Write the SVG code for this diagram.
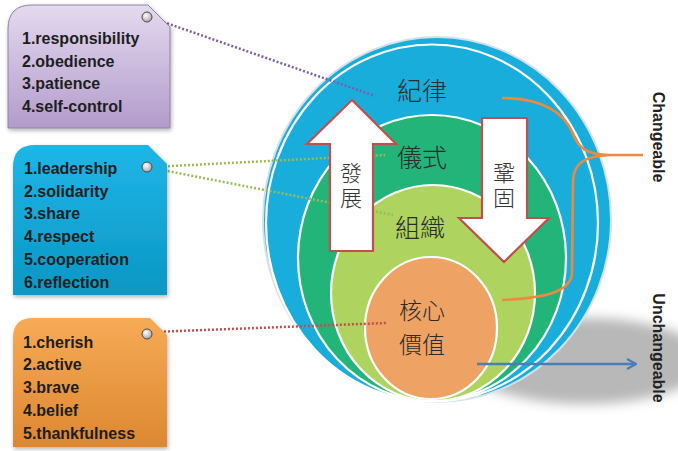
<svg xmlns="http://www.w3.org/2000/svg" width="678" height="451" viewBox="0 0 678 451">
<defs>
<linearGradient id="gPurple" x1="0" y1="0" x2="0" y2="1"><stop offset="0" stop-color="#E4DAEF"/><stop offset="1" stop-color="#B39BCB"/></linearGradient>
<linearGradient id="gBlue" x1="0" y1="0" x2="0" y2="1"><stop offset="0" stop-color="#1FB6E8"/><stop offset="1" stop-color="#0A97C4"/></linearGradient>
<linearGradient id="gOrange" x1="0" y1="0" x2="0" y2="1"><stop offset="0" stop-color="#F7AA55"/><stop offset="1" stop-color="#DD8832"/></linearGradient>
<radialGradient id="gHole" cx="0.4" cy="0.35" r="0.7"><stop offset="0" stop-color="#FFFFFF"/><stop offset="1" stop-color="#A0A0A0"/></radialGradient>
<filter id="blur" x="-30%" y="-50%" width="160%" height="200%"><feGaussianBlur stdDeviation="6"/></filter>
<filter id="shadow" x="-10%" y="-10%" width="130%" height="130%"><feDropShadow dx="1" dy="2" stdDeviation="2" flood-color="#000" flood-opacity="0.3"/></filter>
<marker id="arrowBlue" viewBox="0 0 12 12" refX="11" refY="6" markerWidth="12" markerHeight="12" markerUnits="userSpaceOnUse" orient="auto"><path d="M2,1 L11,6 L2,11" fill="none" stroke="#4A7EBB" stroke-width="2.2"/></marker>
</defs>
<style>
.list{font-family:"Liberation Sans",Arial,sans-serif;font-weight:bold;font-size:16px;fill:#1E1E1E}
.cjk{font-family:"Noto Sans CJK TC","Noto Sans CJK SC",sans-serif;font-weight:300;font-size:25px;fill:#2B2B2B;text-anchor:middle}
.cjkc{font-family:"Noto Sans CJK TC","Noto Sans CJK SC",sans-serif;font-weight:300;font-size:23px;fill:#2B2B2B;text-anchor:middle}
.cjkv{font-family:"Noto Sans CJK TC","Noto Sans CJK SC",sans-serif;font-weight:300;font-size:22px;fill:#333;writing-mode:vertical-rl;letter-spacing:3px}
.side{font-family:"Liberation Sans",Arial,sans-serif;font-weight:bold;font-size:16px;fill:#222;text-anchor:middle}
.hole{fill:url(#gHole);stroke:#4A4A4A;stroke-width:1}
.ring{stroke:#FFFFFF;stroke-width:2.2}
.bigarrow{fill:#FFFFFF;stroke:#C0504D;stroke-width:2.2}
.dot{fill:none;stroke-width:2.5;stroke-dasharray:2 2}
</style>
<rect width="678" height="451" fill="#FFFFFF"/>

<!-- shadow under sphere -->
<ellipse cx="585" cy="361" rx="122" ry="43" fill="#B8B8B8" filter="url(#blur)"/>

<g id="layers">
<ellipse id="layer-outer" cx="437" cy="219.5" rx="174" ry="182.5" fill="#18ADDB" stroke="#D5E1E8" stroke-width="2"/>
<ellipse cx="432" cy="223" rx="166" ry="178.5" fill="#18ADDB" class="ring"/>
<ellipse id="layer-ritual" cx="432" cy="258" rx="134" ry="143" fill="#22B479" class="ring"/>
<ellipse id="layer-org" cx="433" cy="293" rx="102" ry="108" fill="#AED35E" class="ring"/>
<ellipse id="layer-core" cx="431" cy="328" rx="66" ry="71" fill="#EEA263" class="ring"/>
</g>

<g id="connectors">
<line class="dot" x1="152" y1="18" x2="375" y2="96" stroke="#7D5FA8"/>
<line class="dot" x1="152" y1="167" x2="385" y2="155" stroke="#9BBB59"/>
<line class="dot" x1="152" y1="168" x2="393" y2="215" stroke="#9BBB59"/>
<line class="dot" x1="152" y1="332" x2="387" y2="323" stroke="#C0504D"/>
<path d="M502,98 C545,98 565,115 572,132 C578,147 585,155 610,155 L643,155 M643,155 L610,155 C585,156 574,163 573,180 L572,272 C572,292 545,298 502,300" fill="none" stroke="#F0893D" stroke-width="2.6"/>
<line x1="477" y1="364" x2="636" y2="364" stroke="#4A7EBB" stroke-width="2.5" marker-end="url(#arrowBlue)"/>
</g>

<g id="arrow-develop">
<path class="bigarrow" d="M352,100 L396,144 L373,144 L373,251 L330,251 L330,144 L307,144 Z"/>
<text class="cjkv" x="351" y="162">發展</text>
</g>
<g id="arrow-consolidate">
<path class="bigarrow" d="M482,118 L527,118 L527,218 L549,218 L504,262 L459,218 L482,218 Z"/>
<text class="cjkv" x="504" y="162">鞏固</text>
</g>

<g id="labels">
<text class="cjk" x="422" y="100">紀律</text>
<text class="cjk" x="422" y="167">儀式</text>
<text class="cjk" x="420" y="237">組織</text>
<text class="cjkc" x="422" y="319">核心</text>
<text class="cjkc" x="422" y="352.5">價值</text>
</g>

<g id="box-discipline" filter="url(#shadow)">
<path d="M8,128 L8,29 Q8,5 32,5 L148,5 L170,27 L170,128 Z" fill="url(#gPurple)" stroke="#8F82A3" stroke-width="1"/>
</g>
<g id="box-discipline-content">
<circle class="hole" cx="147" cy="17" r="5"/>
<text class="list" x="22" y="44">1.responsibility</text>
<text class="list" x="22" y="67">2.obedience</text>
<text class="list" x="22" y="89">3.patience</text>
<text class="list" x="22" y="112">4.self-control</text>
</g>

<g id="box-ritual" filter="url(#shadow)">
<path d="M13,295 L13,167 Q13,145 35,145 L148,145 L167,164 L167,295 Z" fill="url(#gBlue)"/>
</g>
<g id="box-ritual-content">
<circle class="hole" cx="147" cy="167" r="5"/>
<text class="list" x="24" y="174">1.leadership</text>
<text class="list" x="24" y="197">2.solidarity</text>
<text class="list" x="24" y="219">3.share</text>
<text class="list" x="24" y="242">4.respect</text>
<text class="list" x="24" y="265">5.cooperation</text>
<text class="list" x="24" y="288">6.reflection</text>
</g>

<g id="box-core" filter="url(#shadow)">
<path d="M13,447 L13,338 Q13,318 33,318 L150,318 L167,335 L167,447 Z" fill="url(#gOrange)"/>
</g>
<g id="box-core-content">
<circle class="hole" cx="147" cy="334" r="5"/>
<text class="list" x="23" y="348">1.cherish</text>
<text class="list" x="23" y="370">2.active</text>
<text class="list" x="23" y="393">3.brave</text>
<text class="list" x="23" y="416">4.belief</text>
<text class="list" x="23" y="439">5.thankfulness</text>
</g>

<g id="side-labels">
<text class="side" transform="translate(653,137) rotate(90)">Changeable</text>
<text class="side" transform="translate(653,348) rotate(90)">Unchangeable</text>
</g>
</svg>
